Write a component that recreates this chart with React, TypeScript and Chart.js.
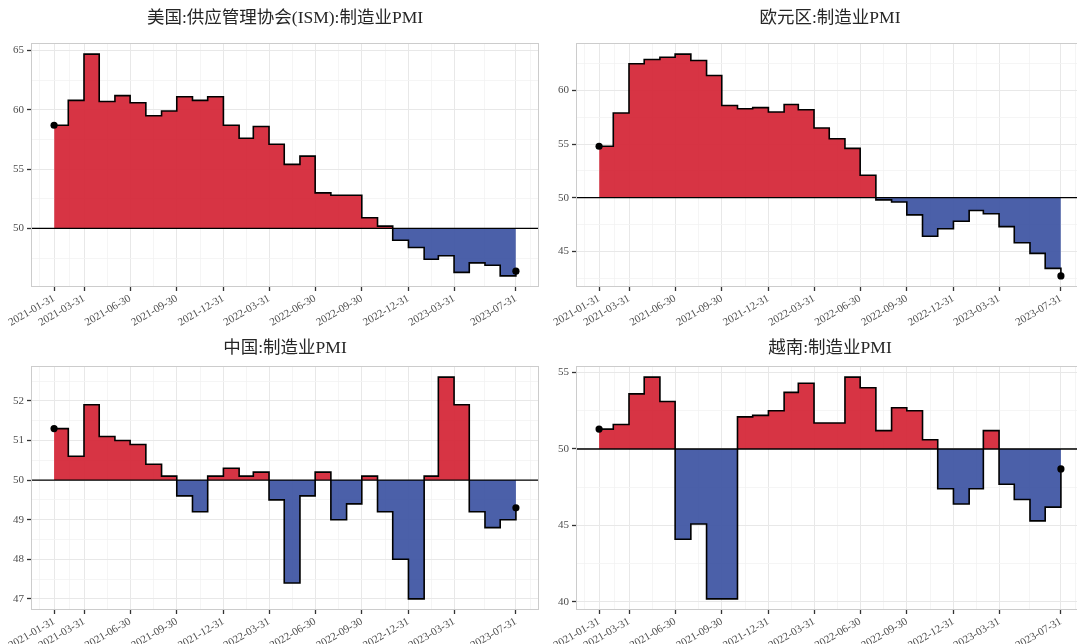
import React, { useEffect, useRef } from 'react';
import { Chart, registerables } from 'chart.js';

Chart.register(...registerables);

// Month-end observation dates shared by every panel
const monthEnds = [
  '2021-01-31', '2021-02-28', '2021-03-31', '2021-04-30', '2021-05-31', '2021-06-30',
  '2021-07-31', '2021-08-31', '2021-09-30', '2021-10-31', '2021-11-30', '2021-12-31',
  '2022-01-31', '2022-02-28', '2022-03-31', '2022-04-30', '2022-05-31', '2022-06-30',
  '2022-07-31', '2022-08-31', '2022-09-30', '2022-10-31', '2022-11-30', '2022-12-31',
  '2023-01-31', '2023-02-28', '2023-03-31', '2023-04-30', '2023-05-31', '2023-06-30',
  '2023-07-31',
];

// Labelled dates on the time axis
const xTickLabels = [
  '2021-01-31', '2021-03-31', '2021-06-30', '2021-09-30', '2021-12-31', '2022-03-31',
  '2022-06-30', '2022-09-30', '2022-12-31', '2023-03-31', '2023-07-31',
];

const usPmi = [
  58.7, 60.8, 64.7, 60.7, 61.2, 60.6, 59.5, 59.9, 61.1, 60.8, 61.1, 58.7,
  57.6, 58.6, 57.1, 55.4, 56.1, 53.0, 52.8, 52.8, 50.9, 50.2, 49.0, 48.4,
  47.4, 47.7, 46.3, 47.1, 46.9, 46.0, 46.4,
];
const euroPmi = [
  54.8, 57.9, 62.5, 62.9, 63.1, 63.4, 62.8, 61.4, 58.6, 58.3, 58.4, 58.0,
  58.7, 58.2, 56.5, 55.5, 54.6, 52.1, 49.8, 49.6, 48.4, 46.4, 47.1, 47.8,
  48.8, 48.5, 47.3, 45.8, 44.8, 43.4, 42.7,
];
const chinaPmi = [
  51.3, 50.6, 51.9, 51.1, 51.0, 50.9, 50.4, 50.1, 49.6, 49.2, 50.1, 50.3,
  50.1, 50.2, 49.5, 47.4, 49.6, 50.2, 49.0, 49.4, 50.1, 49.2, 48.0, 47.0,
  50.1, 52.6, 51.9, 49.2, 48.8, 49.0, 49.3,
];
const vietnamPmi = [
  51.3, 51.6, 53.6, 54.7, 53.1, 44.1, 45.1, 40.2, 40.2, 52.1, 52.2, 52.5,
  53.7, 54.3, 51.7, 51.7, 54.7, 54.0, 51.2, 52.7, 52.5, 50.6, 47.4, 46.4,
  47.4, 51.2, 47.7, 46.7, 45.3, 46.2, 48.7,
];

const usTicks = [50, 55, 60, 65];
const euroTicks = [45, 50, 55, 60];
const chinaTicks = [47, 48, 49, 50, 51, 52];
const vietnamTicks = [40, 45, 50, 55];

const THRESHOLD = 50;

const toDay = (s: string) => Date.parse(s + 'T00:00:00Z') / 86400000;

const SERIF = '"Liberation Serif", "DejaVu Serif", serif';
const TITLE_FONT = '17.5px "Liberation Serif", "Noto Sans CJK SC", serif';

// midpoints between breaks, with one extra step past each end
function minorBreaks(major: number[], lo: number, hi: number) {
  const d = major[1] - major[0];
  const ext = [major[0] - d, ...major, major[major.length - 1] + d];
  const out: number[] = [];
  for (let i = 1; i < ext.length; i++) {
    const m = (ext[i] + ext[i - 1]) / 2;
    if (m >= lo && m <= hi) out.push(m);
  }
  return out;
}

type PanelProps = {
  title: string;
  values: number[];
  yTicks: number[];
  box: { left: number; top: number; width: number; height: number };
  plot: { left: number; top: number; right: number; bottom: number };
};

function Panel({ title, values, yTicks, box, plot }: PanelProps) {
  const ref = useRef<HTMLCanvasElement>(null);

  useEffect(() => {
    if (!ref.current) return;
    const xs = monthEnds.map(toDay);
    const span = xs[xs.length - 1] - xs[0];
    const xMin = xs[0] - 0.05 * span;
    const xMax = xs[xs.length - 1] + 0.05 * span;
    const majorX = xTickLabels.map(toDay);
    const minorX = minorBreaks(majorX, xMin, xMax);
    const xLabel = new Map<number, string>();
    majorX.forEach((v, i) => xLabel.set(v, xTickLabels[i]));

    const lo = Math.min(THRESHOLD, ...values);
    const hi = Math.max(THRESHOLD, ...values);
    const yMin = lo - 0.05 * (hi - lo);
    const yMax = hi + 0.05 * (hi - lo);
    const minorY = minorBreaks(yTicks, yMin, yMax);
    const yMajorSet = new Set(yTicks);

    const n = values.length;
    const points = values.map((v, i) => ({ x: xs[i], y: v }));

    const decorations = {
      id: 'panelDecor',
      afterDatasetsDraw(chart: any) {
        const { ctx, chartArea } = chart;
        const y = chart.scales.y.getPixelForValue(THRESHOLD);
        ctx.save();
        ctx.strokeStyle = '#000';
        ctx.lineWidth = 1.3;
        ctx.beginPath();
        ctx.moveTo(chartArea.left, y);
        ctx.lineTo(chartArea.right, y);
        ctx.stroke();
        // redraw end markers above the reference line
        const meta = chart.getDatasetMeta(0);
        [meta.data[0], meta.data[n - 1]].forEach((p: any) => {
          ctx.fillStyle = '#000';
          ctx.beginPath();
          ctx.arc(p.x, p.y, 3.6, 0, Math.PI * 2);
          ctx.fill();
        });
        ctx.restore();
      },
      afterDraw(chart: any) {
        const { ctx, chartArea } = chart;
        ctx.save();
        ctx.strokeStyle = '#cccccc';
        ctx.lineWidth = 1;
        ctx.strokeRect(
          chartArea.left + 0.5,
          chartArea.top + 0.5,
          chartArea.right - chartArea.left - 1,
          chartArea.bottom - chartArea.top - 1,
        );
        ctx.fillStyle = '#262626';
        ctx.font = TITLE_FONT;
        ctx.textAlign = 'center';
        ctx.textBaseline = 'middle';
        ctx.fillText(title, (chartArea.left + chartArea.right) / 2, 18);
        ctx.restore();
      },
    };

    const chart = new Chart(ref.current, {
      type: 'line',
      data: {
        datasets: [
          {
            data: points,
            stepped: 'before',
            borderColor: '#000',
            borderWidth: 1.6,
            pointRadius: 0,
            pointHoverRadius: 0,
            fill: {
              target: { value: THRESHOLD },
              above: 'rgba(212, 35, 52, 0.92)',
              below: 'rgba(60, 83, 162, 0.92)',
            },
          } as any,
        ],
      },
      options: {
        responsive: false,
        animation: false,
        devicePixelRatio: 1,
        events: [],
        layout: {
          padding: { top: plot.top, left: 0, bottom: 0, right: box.width - plot.right },
        },
        plugins: {
          legend: { display: false },
          title: { display: false },
          tooltip: { enabled: false },
        },
        scales: {
          x: {
            type: 'linear',
            min: xMin,
            max: xMax,
            afterBuildTicks: (s: any) => {
              s.ticks = [...majorX, ...minorX].map((v) => ({ value: v }));
            },
            afterFit: (s: any) => {
              s.height = box.height - plot.bottom;
              s.paddingLeft = 0;
              s.paddingRight = 0;
            },
            border: { display: false },
            grid: {
              color: (c: any) => (xLabel.has(c.tick?.value) ? '#e8e8e8' : '#f3f3f3'),
              lineWidth: (c: any) => (xLabel.has(c.tick?.value) ? 1 : 0.8),
              drawTicks: true,
              tickLength: 4,
              tickColor: (c: any) => (xLabel.has(c.tick?.value) ? '#333' : 'rgba(0,0,0,0)'),
              tickWidth: 1.3,
            },
            ticks: {
              autoSkip: false,
              maxRotation: 30,
              minRotation: 30,
              padding: 1,
              color: '#4d4d4d',
              font: { family: SERIF, size: 11 },
              callback: (v: any) => xLabel.get(Number(v)) ?? '',
            },
          },
          y: {
            type: 'linear',
            min: yMin,
            max: yMax,
            afterBuildTicks: (s: any) => {
              s.ticks = [...yTicks, ...minorY].map((v) => ({ value: v }));
            },
            afterFit: (s: any) => {
              s.width = plot.left;
              s.paddingTop = 0;
              s.paddingBottom = 0;
            },
            border: { display: false },
            grid: {
              color: (c: any) => (yMajorSet.has(c.tick?.value) ? '#e8e8e8' : '#f3f3f3'),
              lineWidth: (c: any) => (yMajorSet.has(c.tick?.value) ? 1 : 0.8),
              drawTicks: true,
              tickLength: 4,
              tickColor: (c: any) => (yMajorSet.has(c.tick?.value) ? '#333' : 'rgba(0,0,0,0)'),
              tickWidth: 1.3,
            },
            ticks: {
              autoSkip: false,
              padding: 3,
              color: '#4d4d4d',
              font: { family: SERIF, size: 11 },
              callback: (v: any) => (yMajorSet.has(Number(v)) ? String(v) : ''),
            },
          },
        },
      },
      plugins: [decorations],
    });

    return () => chart.destroy();
  }, [title, values, yTicks, box, plot]);

  return (
    <canvas
      ref={ref}
      width={box.width}
      height={box.height}
      style={{
        position: 'absolute',
        left: box.left,
        top: box.top,
        width: box.width,
        height: box.height,
      }}
    />
  );
}

const panels: PanelProps[] = [
  {
    title: '美国:供应管理协会(ISM):制造业PMI',
    values: usPmi,
    yTicks: usTicks,
    box: { left: 0, top: 0, width: 540, height: 330 },
    plot: { left: 31, top: 43, right: 539, bottom: 287 },
  },
  {
    title: '欧元区:制造业PMI',
    values: euroPmi,
    yTicks: euroTicks,
    box: { left: 540, top: 0, width: 548, height: 330 },
    plot: { left: 36, top: 43, right: 544, bottom: 287 },
  },
  {
    title: '中国:制造业PMI',
    values: chinaPmi,
    yTicks: chinaTicks,
    box: { left: 0, top: 330, width: 540, height: 314 },
    plot: { left: 31, top: 36, right: 539, bottom: 280 },
  },
  {
    title: '越南:制造业PMI',
    values: vietnamPmi,
    yTicks: vietnamTicks,
    box: { left: 540, top: 330, width: 548, height: 314 },
    plot: { left: 36, top: 36, right: 544, bottom: 280 },
  },
];

export default function App() {
  return (
    <div
      style={{
        position: 'fixed',
        left: 0,
        top: 0,
        width: 1077,
        height: 644,
        overflow: 'hidden',
        background: '#fff',
      }}
    >
      {panels.map((p) => (
        <Panel key={p.title} {...p} />
      ))}
    </div>
  );
}
